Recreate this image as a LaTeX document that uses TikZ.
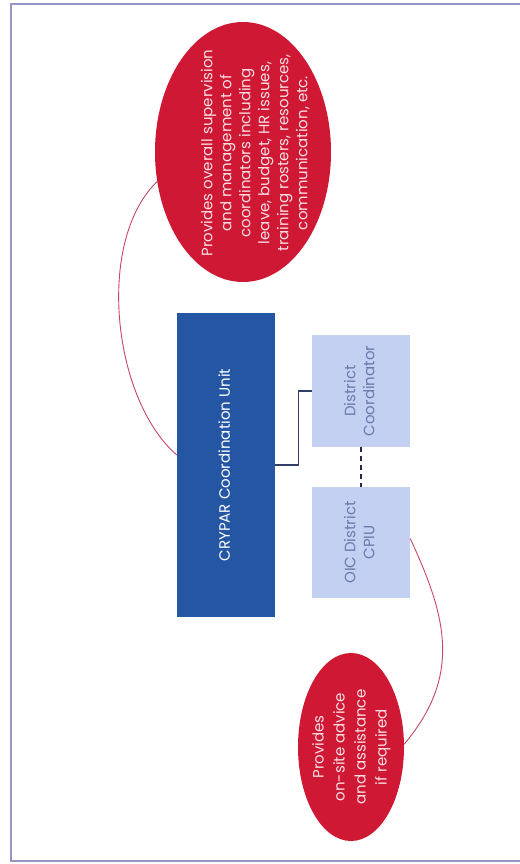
\documentclass[tikz,border=0pt]{standalone}
\usepackage{fontspec}
\setmainfont{Poppins}
\usepackage{graphicx}
\usetikzlibrary{shapes.geometric}
\definecolor{unitblue}{RGB}{36,86,164}
\definecolor{paleblue}{RGB}{196,208,242}
\definecolor{paletext}{RGB}{104,122,172}
\definecolor{ovalred}{RGB}{206,24,52}
\definecolor{ovaltext}{RGB}{252,222,228}
\definecolor{linkred}{RGB}{196,72,96}
\definecolor{linkblue}{RGB}{48,62,104}
\definecolor{framegrey}{RGB}{150,150,198}
\newcommand{\uprot}[1]{\rotatebox{90}{\begin{tabular}{@{}c@{}}#1\end{tabular}}}

\begin{document}
\begin{tikzpicture}[x=1pt, y=-1pt,
        font=\fontsize{15}{19}\selectfont,
        unitbox/.style={rectangle, fill=unitblue, text=white, inner sep=0pt,
                        minimum width=98pt, minimum height=304pt},
        districtbox/.style={rectangle, fill=paleblue, text=paletext, inner sep=0pt,
                            minimum width=98pt, minimum height=112pt},
        oval/.style={ellipse, fill=ovalred, inner sep=0pt},
        ovalwords/.style={text=ovaltext, inner sep=0pt},
        redlink/.style={draw=linkred, line width=0.9pt},
        bluelink/.style={draw=linkblue, line width=1.2pt}
    ]
        \useasboundingbox (0,0) rectangle (519,864);
        \draw[framegrey, line width=1.6pt] (540,4) -- (11,4) -- (11,861) -- (540,861);

        % boxes
        \node[unitbox] (crypar) at (226,465) {\uprot{CRYPAR Coordination Unit}};
        \node[districtbox] (distcoord) at (361,391) {\uprot{District\\Coordinator}};
        \node[districtbox, minimum height=111pt] (oic) at (361,542.5) {\uprot{OIC District\\CPIU}};

        % ovals
        \node[oval, minimum width=176pt, minimum height=260pt] (supervise) at (243,152) {};
        \node[ovalwords] (supervisetext) at (256,153) {\uprot{Provides overall supervision\\
            and management of\\coordinators including\\leave, budget, HR issues,\\
            training rosters, resources,\\communication, etc.}};
        \node[oval, minimum width=106pt, minimum height=188pt] (onsite) at (351,747) {};
        \node[ovalwords, font=\fontsize{15}{21}\selectfont] (onsitetext) at (onsite)
            {\uprot{Provides\\on-site advice\\and assistance\\if required}};

        % connectors
        \draw[bluelink] (crypar.east) -- ++(23,0) |- (distcoord.west);
        \draw[linkblue!70!black, line width=1.3pt, dash pattern=on 5pt off 4pt]
            (distcoord.south) -- (oic.north);
        \draw[redlink] (supervise.199) to[out=224, in=139, looseness=0.8]
            ([yshift=10pt]crypar.west);
        \draw[redlink] ([yshift=4pt]oic.east) to[out=295, in=50, looseness=1.1]
            (onsite.3);
    \end{tikzpicture}
\end{document}
